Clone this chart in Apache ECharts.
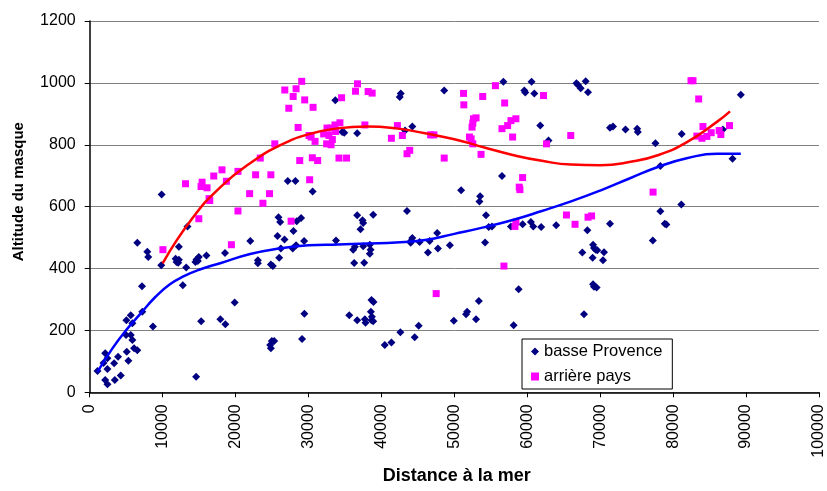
<!DOCTYPE html>
<html>
<head>
<meta charset="utf-8">
<script src="https://cdn.jsdelivr.net/npm/echarts@6/dist/echarts.min.js"></script>
<style>html,body{margin:0;padding:0;background:#fff}#c{width:827px;height:491px}</style>
</head>
<body>
<div id="c"></div>
<script>
const seriesNames = ['basse Provence', 'arrière pays'];
const xAxisTitle = 'Distance à la mer';
const yAxisTitle = 'Altitude du masque';

const basseProvence = [
[1070,69],[2120,126],[2430,110],[1890,95],[2430,75],[2120,40],[2430,26],[3350,94],[3890,115],[3440,40],[4260,54],
[5080,131],[5300,102],[4990,185],[5630,185],[5850,169],[6080,142],[6530,136],[5030,233],[5630,249],[5850,223],
[7210,260],[7170,343],[8670,213],[6530,483],[7900,454],[8030,437],[9810,411],[9860,639],[12230,470],[11780,432],
[12230,428],[12130,419],[11910,421],[13410,536],[13230,403],[12770,346],[14640,429],[14960,437],[14500,421],[14820,424],
[16010,442],[18550,450],[22020,489],[23060,427],[23060,417],[19880,290],[15280,230],[17920,236],[18600,220],[14590,50],
[33680,944],[42650,966],[42510,954],[34630,841],[34900,839],[36680,837],[44240,859],[43240,846],[27160,683],[28210,683],[30570,649],
[25890,566],[26120,550],[28390,553],[28990,563],[27940,521],[25750,505],[26710,494],[26210,465],[27840,465],[28300,475],
[29400,489],[24840,413],[25110,408],[25980,435],[33770,491],[36680,572],[37410,556],[37500,547],[37130,527],[38870,574],
[43510,586],[36130,461],[36360,470],[37500,472],[38410,477],[38510,461],[38410,448],[36270,418],[37640,419],[44240,499],
[44100,491],[44010,483],[45240,486],[46380,452],[46610,489],[47650,515],[47750,465],[24970,166],[24750,153],[24840,142],[25300,166],
[29120,172],[29440,254],[35590,249],[36680,233],[37730,236],[37820,225],[38640,298],[38910,292],[38550,260],[38690,244],
[38640,233],[38870,230],[40460,153],[41370,161],[42600,194],[44560,178],[45110,215],
[48610,975],[56720,1004],[60590,1004],[59590,975],[59720,969],[60960,966],[66740,999],[66960,993],[67320,983],[68010,1005],
[68330,970],[61780,862],[62910,814],[71340,855],[71750,859],[73470,849],[56530,699],[50930,653],[53530,634],[53440,617],
[54340,572],[54710,534],[55160,536],[54210,484],[49390,475],[57760,536],[59360,543],[60490,550],[60820,536],[61910,534],
[63960,540],[68240,524],[71340,545],[67550,452],[69020,477],[69150,466],[69370,461],[69600,459],[68960,435],[70520,453],
[70380,427],[58810,333],[53350,295],[51750,260],[51610,252],[52980,236],[49930,231],[58130,217],[69020,349],[69150,341],
[69510,339],[67780,252],
[89280,962],[75070,852],[75160,841],[81170,835],[86820,849],[77570,805],[88140,755],[78250,731],[81120,607],
[78250,585],[78850,545],[79070,542],[77210,491]
];

const arrierePays = [
[10040,461],[14960,561],[20330,586],[19430,477],[16460,620],
[13140,674],[15410,679],[15270,665],[16090,661],[17010,699],[18140,719],[18740,682],[20330,714],[16370,626],[21930,642],
[22750,703],[23390,757],[23750,611],
[29070,1005],[26750,977],[28300,981],[27900,956],[29480,945],[27300,918],[30630,921],[28580,856],[25380,803],[30080,830],
[30360,825],[30900,811],[28800,749],[30530,758],[31260,749],[32080,835],[32540,854],[33090,854],[33630,864],[34310,871],
[33720,843],[32810,830],[33270,817],[32490,803],[33090,800],[34180,757],[35220,757],[34540,952],[36450,973],[36720,997],
[38180,972],[38730,967],[37730,864],[42190,862],[41370,821],[42870,830],[43510,771],[43880,782],[46750,832],[47200,832],
[30160,687],[24840,703],[24660,642],
[27620,553],[47510,319],
[51260,966],[51300,929],[53890,956],[55630,991],[56900,935],[62230,959],[52980,887],[52620,884],[52530,870],[52430,857],
[58440,884],[57760,878],[57310,862],[56530,852],[52070,825],[52300,819],[52530,803],[57990,825],[65960,830],[62640,803],
[48610,757],[53660,769],[59360,694],[58900,663],[58990,655],
[58440,550],[58310,536],[56800,408],[65370,573],[66550,543],[68330,566],[68820,570],
[82450,1007],[82720,1007],[83500,948],[84090,859],[87730,862],[83260,828],[83950,821],[84630,827],[85220,839],[86310,846],
[86540,833],[77250,647]
];

// trend curves
const trendBasse = [
[1070,66],[3000,138],[5000,201],[7000,255],[9000,308],[11000,349],[13000,376],[15000,396],[18000,418],[22000,447],
[26000,465],[30000,475],[34000,478],[38000,481],[42000,484],[46000,492],[50000,512],[54000,533],[58000,557],[62000,586],
[66000,617],[70000,652],[74000,691],[78000,729],[82000,757],[86000,771],[89280,771]
];
const trendArriere = [
[10000,417],[14000,560],[18000,665],[22000,740],[26000,797],[30000,834],[34000,853],[38000,859],[42000,853],[46000,837],
[50000,818],[54000,792],[58000,767],[62000,748],[66000,736],[70000,734],[74000,744],[78000,767],[82000,810],[86000,874],[87800,908]
];

const FONT = "'Liberation Sans', Arial, sans-serif";
const plain = v => String(v);
const chart = echarts.init(document.getElementById('c'), null, {renderer: 'canvas'});
chart.setOption({
  animation: false,
  backgroundColor: '#ffffff',
  grid: {left: 89.7, right: 4.3, top: 21, bottom: 98.7, containLabel: false},
  xAxis: {
    type: 'value', min: 0, max: 100000, interval: 10000,
    axisLine: {show: true, onZero: false, lineStyle: {color: '#000', width: 1.5}},
    axisTick: {show: true, length: 5, lineStyle: {color: '#000', width: 1}},
    axisLabel: {rotate: 90, margin: 12, color: '#000', fontSize: 16, fontFamily: FONT, formatter: plain},
    splitLine: {show: false}
  },
  yAxis: {
    type: 'value', min: 0, max: 1200, interval: 200,
    axisLine: {show: true, lineStyle: {color: '#000', width: 1.5}},
    axisTick: {show: true, length: 5, lineStyle: {color: '#000', width: 1}},
    axisLabel: {margin: 14, color: '#000', fontSize: 16, fontFamily: FONT, formatter: plain},
    splitLine: {show: true, lineStyle: {color: '#808080', width: 1}}
  },
  legend: {
    data: [
      {name: seriesNames[0], icon: 'diamond'},
      {name: seriesNames[1], icon: 'rect'}
    ],
    orient: 'vertical', left: 522, top: 339,
    itemWidth: 8, itemHeight: 8, itemGap: 8,
    padding: [4, 10, 4, 9],
    borderColor: '#000', borderWidth: 1, backgroundColor: '#fff',
    itemStyle: {opacity: 1},
    textStyle: {color: '#000', fontSize: 16.5, fontFamily: FONT, lineHeight: 17}
  },
  graphic: [
    {type: 'text', x: 456.7, y: 476, style: {text: xAxisTitle, font: "bold 18px " + FONT, fill: '#000', align: 'center', verticalAlign: 'middle'}},
    {type: 'text', x: 19, y: 191.7, rotation: Math.PI / 2, style: {text: yAxisTitle, font: "bold 15px " + FONT, fill: '#000', align: 'center', verticalAlign: 'middle'}}
  ],
  series: [
    {name: seriesNames[0], type: 'scatter', data: basseProvence, symbol: 'diamond', symbolSize: 8,
      itemStyle: {color: '#000080', opacity: 1}, z: 2},
    {name: seriesNames[1], type: 'scatter', data: arrierePays, symbol: 'rect', symbolSize: 7,
      itemStyle: {color: '#FF00FF', opacity: 1}, z: 3},
    {name: 'trend1', type: 'line', data: trendBasse, smooth: true, showSymbol: false, symbol: 'none',
      lineStyle: {color: '#0000FF', width: 2.5}, z: 4},
    {name: 'trend2', type: 'line', data: trendArriere, smooth: true, showSymbol: false, symbol: 'none',
      lineStyle: {color: '#FF0000', width: 2.5}, z: 5}
  ]
});
</script>
</body>
</html>
